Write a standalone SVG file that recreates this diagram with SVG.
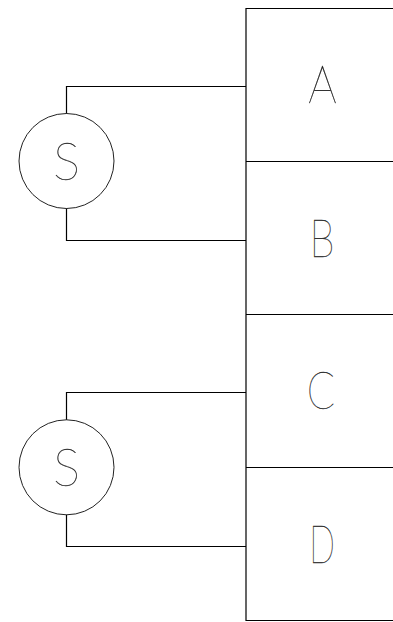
<svg xmlns="http://www.w3.org/2000/svg" width="393" height="622" viewBox="0 0 393 622">
<style>
.ln{fill:none;stroke:#000;stroke-width:1.2}
.cir{fill:none;stroke:#222;stroke-width:1}
.lbl{font-family:"Lato Thin","Lato Hairline","DejaVu Sans ExtraLight","Lato","DejaVu Sans",sans-serif;font-weight:100;font-size:52px;text-anchor:middle;fill:#000;stroke:#333;stroke-width:0.3}
</style>
<rect width="393" height="622" fill="#fff"/>
<g id="box-A"><path class="ln" d="M246,8.5H400M246,8V161"/><text class="lbl" x="322.5" y="103.3" textLength="28.4" lengthAdjust="spacingAndGlyphs">A</text></g>
<g id="box-B"><path class="ln" d="M246,161.5H400M246,161V314"/><text class="lbl" x="322" y="256.5" textLength="25" lengthAdjust="spacingAndGlyphs">B</text></g>
<g id="box-C"><path class="ln" d="M246,314.5H400M246,314V467"/><text class="lbl" x="321" y="408.8" textLength="28.3" lengthAdjust="spacingAndGlyphs">C</text></g>
<g id="box-D"><path class="ln" d="M246,467.5H400M246,620.5H400M246,467V621"/><text class="lbl" x="322" y="562.5" textLength="25.7" lengthAdjust="spacingAndGlyphs">D</text></g>
<g id="source-1"><circle class="cir" cx="66.5" cy="161" r="47.5"/><text class="lbl" x="66.5" y="179.6" textLength="27" lengthAdjust="spacingAndGlyphs">S</text></g>
<g id="source-2"><circle class="cir" cx="66.5" cy="467.3" r="47.5"/><text class="lbl" x="66.5" y="486.2" textLength="27" lengthAdjust="spacingAndGlyphs">S</text></g>
<g id="connectors">
<path class="ln" d="M66.5,113.5V86.5H246"/>
<path class="ln" d="M66.5,208.5V240.5H246"/>
<path class="ln" d="M66.5,419.8V392.5H246"/>
<path class="ln" d="M66.5,514.8V546.5H246"/>
</g>
</svg>
